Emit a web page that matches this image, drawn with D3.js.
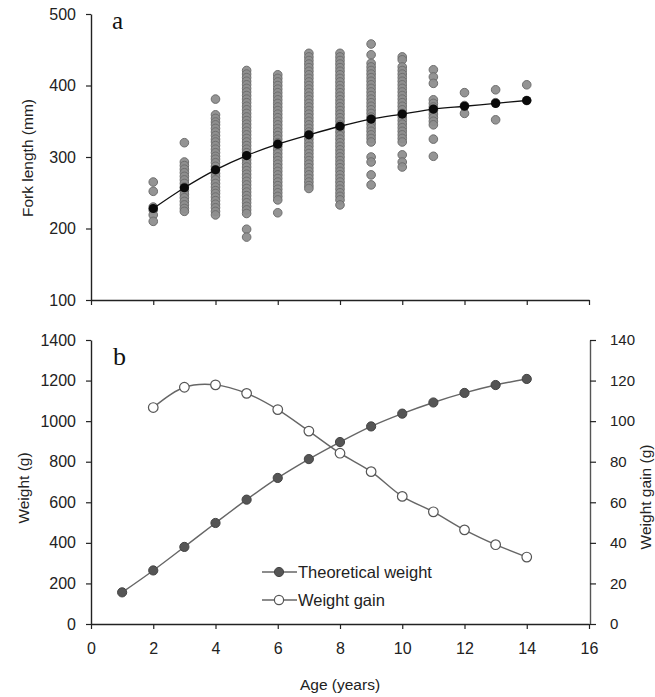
<!DOCTYPE html>
<html>
<head>
<meta charset="utf-8">
<script src="https://cdn.jsdelivr.net/npm/d3@7"></script>
<style>
  html, body { margin: 0; padding: 0; background: #fff; }
  svg { display: block; font-family: "Liberation Sans", Arial, sans-serif; }
</style>
</head>
<body>
<svg id="chart" width="655" height="697"></svg>
<script>
// ---------- Data ----------
// Panel a: individual fork lengths (mm) by age
const fl2  = [265, 252, 230, 226, 219, 210];
const fl3  = [320, 293, 288, 283, 278, 273, 268, 263, 258, 253, 248, 243, 238, 233, 228, 224];
const fl4  = [381, 359, 354, 349, 345, 340, 335, 330, 325, 321, 316, 311, 306, 301, 297, 292, 287, 282, 277, 273, 268, 263, 258, 253, 249, 244, 239, 234, 229, 224, 219];
const fl5  = [421, 416, 411, 406, 401, 396, 391, 386, 381, 376, 371, 366, 361, 356, 351, 346, 341, 336, 331, 326, 321, 316, 311, 306, 301, 296, 291, 286, 281, 276, 271, 266, 261, 256, 251, 246, 241, 236, 231, 226, 221, 199, 188];
const fl6  = [415, 410, 405, 400, 395, 390, 385, 380, 375, 370, 365, 360, 355, 350, 345, 340, 335, 330, 325, 320, 315, 310, 305, 300, 295, 290, 285, 280, 275, 270, 265, 260, 255, 250, 245, 240, 222];
const fl7  = [445, 440, 435, 430, 425, 420, 415, 410, 405, 400, 395, 390, 385, 380, 375, 370, 365, 360, 355, 350, 345, 340, 335, 330, 325, 320, 315, 310, 305, 300, 295, 290, 285, 280, 275, 270, 265, 260, 256];
const fl8  = [445, 440, 435, 430, 425, 420, 415, 410, 405, 400, 395, 390, 385, 380, 375, 370, 365, 360, 355, 350, 345, 340, 335, 330, 325, 320, 315, 310, 305, 300, 295, 290, 285, 280, 275, 270, 265, 260, 255, 250, 245, 240, 233];
const fl9  = [458, 443, 431, 426, 421, 416, 411, 406, 401, 396, 391, 386, 381, 376, 371, 366, 361, 356, 351, 346, 341, 336, 331, 326, 321, 300, 293, 275, 261];
const fl10 = [440, 436, 426, 421, 416, 411, 406, 401, 396, 391, 386, 381, 376, 371, 366, 361, 356, 351, 346, 341, 336, 331, 326, 321, 303, 293, 286];
const fl11 = [422, 412, 403, 380, 375, 370, 365, 360, 355, 350, 345, 325, 301];
const fl12 = [390, 372, 361];
const fl13 = [394, 376, 352];
const fl14 = [401, 379];
const scatterAges = [2, 3, 4, 5, 6, 7, 8, 9, 10, 11, 12, 13, 14];
const scatterGroups = [fl2, fl3, fl4, fl5, fl6, fl7, fl8, fl9, fl10, fl11, fl12, fl13, fl14];

// Panel a: mean fork length curve
const meanAges = [2, 3, 4, 5, 6, 7, 8, 9, 10, 11, 12, 13, 14];
const meanLengths = [228, 257, 282, 302, 318, 331, 343, 353, 360, 367, 371, 375, 379];

// Panel b
const weightAges = [1, 2, 3, 4, 5, 6, 7, 8, 9, 10, 11, 12, 13, 14];
const theoreticalWeight = [156, 264, 380, 498, 613, 720, 813, 897, 974, 1037, 1092, 1139, 1178, 1208];
const gainAges = [2, 3, 4, 5, 6, 7, 8, 9, 10, 11, 12, 13, 14];
const weightGain = [106.7, 116.7, 117.9, 113.7, 105.7, 95.1, 84.2, 75.1, 62.9, 55.3, 46.4, 39.1, 33.0];

const xTicks = [0, 2, 4, 6, 8, 10, 12, 14, 16];
const yTicksA = [100, 200, 300, 400, 500];
const yTicksB = [0, 200, 400, 600, 800, 1000, 1200, 1400];
const yTicksB2 = [0, 20, 40, 60, 80, 100, 120, 140];
const legendLabels = ["Theoretical weight", "Weight gain"];

// ---------- Drawing ----------
const svg = d3.select("#chart");
const axisColor = "#222";
const textColor = "#222";
const fmt = d3.format("d");

const x = d3.scaleLinear().domain([0, 16]).range([91, 589]);
const yA = d3.scaleLinear().domain([100, 500]).range([300, 14]);
const yB = d3.scaleLinear().domain([0, 1400]).range([624, 340]);
const yB2 = d3.scaleLinear().domain([0, 140]).range([624, 340]);

function styleAxis(g, fontSize) {
  g.select(".domain").attr("stroke", axisColor).attr("stroke-width", 1.4);
  g.selectAll(".tick line").attr("stroke", axisColor).attr("stroke-width", 1.2);
  g.selectAll(".tick text").attr("fill", textColor)
    .style("font-size", fontSize + "px")
    .style("font-family", '"Liberation Sans", Arial, sans-serif');
}

// ----- Panel a -----
const scatterData = [];
scatterGroups.forEach((grp, i) => grp.forEach(v => scatterData.push({ age: scatterAges[i], v })));

svg.append("g").selectAll("circle").data(scatterData).join("circle")
  .attr("cx", d => x(d.age)).attr("cy", d => yA(d.v)).attr("r", 4.3)
  .attr("fill", "#8e8e8e").attr("stroke", "#6e6e6e").attr("stroke-width", 1)
  .attr("fill-opacity", 0.95);

const meanData = meanAges.map((a, i) => ({ a, v: meanLengths[i] }));
svg.append("path").datum(meanData)
  .attr("d", d3.line().x(d => x(d.a)).y(d => yA(d.v)).curve(d3.curveCatmullRom.alpha(0.5)))
  .attr("fill", "none").attr("stroke", "#111").attr("stroke-width", 1.3);
svg.append("g").selectAll("circle").data(meanData).join("circle")
  .attr("cx", d => x(d.a)).attr("cy", d => yA(d.v)).attr("r", 4.6)
  .attr("fill", "#0a0a0a");

const axAx = svg.append("g").attr("transform", "translate(0,300)")
  .call(d3.axisBottom(x).tickValues(xTicks).tickSize(5).tickSizeOuter(0).tickFormat(""));
styleAxis(axAx, 16);
const ayA = svg.append("g").attr("transform", "translate(91,0)")
  .call(d3.axisLeft(yA).tickValues(yTicksA).tickSize(5).tickSizeOuter(0).tickPadding(10).tickFormat(fmt));
styleAxis(ayA, 16);

svg.append("text").attr("x", 112).attr("y", 29)
  .style("font-family", '"Liberation Serif", "Times New Roman", serif')
  .style("font-size", "25px").attr("fill", "#111").text("a");

svg.append("text").attr("transform", "translate(33,158) rotate(-90)")
  .attr("text-anchor", "middle").style("font-size", "15.5px").attr("fill", textColor)
  .text("Fork length (mm)");

// ----- Panel b -----
const twData = weightAges.map((a, i) => ({ a, v: theoreticalWeight[i] }));
const wgData = gainAges.map((a, i) => ({ a, v: weightGain[i] }));

svg.append("path").datum(twData)
  .attr("d", d3.line().x(d => x(d.a)).y(d => yB(d.v)).curve(d3.curveCatmullRom.alpha(0.5)))
  .attr("fill", "none").attr("stroke", "#666").attr("stroke-width", 1.4);
svg.append("path").datum(wgData)
  .attr("d", d3.line().x(d => x(d.a)).y(d => yB2(d.v)).curve(d3.curveCatmullRom.alpha(0.5)))
  .attr("fill", "none").attr("stroke", "#666").attr("stroke-width", 1.4);

svg.append("g").selectAll("circle").data(twData).join("circle")
  .attr("cx", d => x(d.a)).attr("cy", d => yB(d.v)).attr("r", 4.6)
  .attr("fill", "#555").attr("stroke", "#444").attr("stroke-width", 1);
svg.append("g").selectAll("circle").data(wgData).join("circle")
  .attr("cx", d => x(d.a)).attr("cy", d => yB2(d.v)).attr("r", 4.8)
  .attr("fill", "#fff").attr("stroke", "#555").attr("stroke-width", 1.2);

const axB = svg.append("g").attr("transform", "translate(0,624)")
  .call(d3.axisBottom(x).tickValues(xTicks).tickSize(5).tickSizeOuter(0).tickPadding(14).tickFormat(fmt));
styleAxis(axB, 16);
const ayB = svg.append("g").attr("transform", "translate(91,0)")
  .call(d3.axisLeft(yB).tickValues(yTicksB).tickSize(5).tickSizeOuter(0).tickPadding(10).tickFormat(fmt));
styleAxis(ayB, 16);
const ayB2 = svg.append("g").attr("transform", "translate(590,0)")
  .call(d3.axisRight(yB2).tickValues(yTicksB2).tickSize(6).tickSizeOuter(0).tickPadding(14).tickFormat(fmt));
styleAxis(ayB2, 15);
ayB2.select(".domain").attr("stroke", "#555");

svg.append("text").attr("x", 113).attr("y", 365)
  .style("font-family", '"Liberation Serif", "Times New Roman", serif')
  .style("font-size", "26px").attr("fill", "#111").text("b");

svg.append("text").attr("transform", "translate(29,488) rotate(-90)")
  .attr("text-anchor", "middle").style("font-size", "15.5px").attr("fill", textColor)
  .text("Weight (g)");
svg.append("text").attr("transform", "translate(651,497) rotate(-90)")
  .attr("text-anchor", "middle").style("font-size", "15.5px").attr("fill", textColor)
  .text("Weight gain (g)");
svg.append("text").attr("x", 340).attr("y", 690)
  .attr("text-anchor", "middle").style("font-size", "15.5px").attr("fill", textColor)
  .text("Age (years)");

// Legend
const legY = [572, 600];
const legend = svg.append("g");
legendLabels.forEach((lab, i) => {
  const g = legend.append("g");
  g.append("line").attr("x1", 262).attr("x2", 297).attr("y1", legY[i]).attr("y2", legY[i])
    .attr("stroke", "#666").attr("stroke-width", 1.4);
  g.append("circle").attr("cx", 279).attr("cy", legY[i]).attr("r", 4.6)
    .attr("fill", i === 0 ? "#555" : "#fff").attr("stroke", i === 0 ? "#444" : "#555")
    .attr("stroke-width", i === 0 ? 1 : 1.2);
  g.append("text").attr("x", 298).attr("y", legY[i] + 6)
    .style("font-size", "16.5px").attr("fill", textColor).text(lab);
});
</script>
</body>
</html>
